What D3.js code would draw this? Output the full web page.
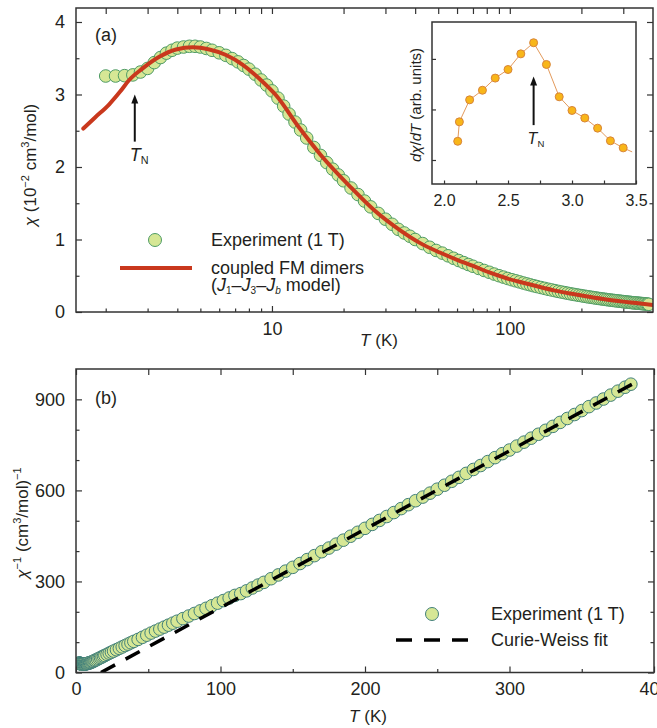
<!DOCTYPE html>
<html lang="en">
<head>
<meta charset="UTF-8">
<title>Susceptibility of coupled FM dimers</title>
<script src="https://d3js.org/d3.v7.min.js"></script>
<style>
  body { margin: 0; background: #fff; }
  svg text { font-family: "Liberation Sans", Arial, sans-serif; fill: #231f20; }
  .tick text { font-size: 18px; }
  .inset .tick text { font-size: 16px; }
  .domain { display: none; }
  .tick line { stroke: #333; stroke-width: 1.2; }
</style>
</head>
<body>
<div id="chart"></div>
<script>
// measured temperatures (K), shared by both panels
const tempK = [
  2.0, 2.2, 2.4, 2.6, 2.8, 3.0, 3.2, 3.4, 3.6, 3.8,
  4.0, 4.25, 4.5, 4.75, 5.0, 5.3, 5.6, 6.0, 6.4, 6.8,
  7.2, 7.6, 8.0, 8.5, 9.0, 9.5, 10, 10.6, 11.2, 11.8,
  12.5, 13.2, 14, 15, 16, 17, 18, 19, 20, 21.5,
  23, 24.5, 26, 28, 30, 32, 34, 36, 38, 40,
  43, 46, 49, 52, 55, 58, 61, 64, 67, 70,
  74, 78, 82, 86, 90, 94, 98, 102, 106, 110,
  114, 118, 122, 126, 130, 135, 140, 145, 150, 155,
  160, 165, 170, 175, 180, 185, 190, 195, 200, 205,
  210, 215, 220, 225, 230, 235, 240, 245, 250, 255,
  260, 265, 270, 275, 280, 285, 290, 295, 300, 305,
  310, 315, 320, 325, 330, 335, 340, 345, 350, 355,
  360, 365, 370, 375, 380, 384
];
// chi (1e-2 cm3/mol), panel (a)
const chiExp = [
  3.255, 3.255, 3.26, 3.27, 3.31, 3.36, 3.44, 3.51, 3.57, 3.61,
  3.64, 3.655, 3.665, 3.665, 3.655, 3.635, 3.61, 3.575, 3.54, 3.495,
  3.45, 3.40, 3.35, 3.28, 3.20, 3.13, 3.05, 2.95, 2.84, 2.73,
  2.62, 2.51, 2.40, 2.27, 2.16, 2.06, 1.97, 1.89, 1.81, 1.71,
  1.62, 1.53, 1.45, 1.36, 1.28, 1.21, 1.14, 1.09, 1.045, 1.00,
  0.944, 0.893, 0.849, 0.812, 0.775, 0.741, 0.71, 0.681, 0.655, 0.631,
  0.601, 0.573, 0.548, 0.523, 0.501, 0.481, 0.462, 0.445, 0.43, 0.415,
  0.40, 0.387, 0.374, 0.362, 0.351, 0.338, 0.326, 0.314, 0.304, 0.294,
  0.284, 0.275, 0.267, 0.259, 0.251, 0.244, 0.237, 0.231, 0.225, 0.219,
  0.213, 0.208, 0.203, 0.198, 0.193, 0.188, 0.184, 0.180, 0.176, 0.172,
  0.168, 0.165, 0.161, 0.158, 0.155, 0.152, 0.149, 0.146, 0.143, 0.140,
  0.138, 0.135, 0.133, 0.130, 0.128, 0.126, 0.124, 0.122, 0.120, 0.118,
  0.116, 0.114, 0.112, 0.110, 0.108, 0.106
];
// 1/chi ((cm3/mol)^-1), panel (b)
const chiInvExp = [
  30.7, 30.7, 30.7, 30.6, 30.2, 29.8, 29.1, 28.5, 28.0, 27.7,
  27.5, 27.4, 27.3, 27.3, 27.4, 27.5, 27.7, 28.0, 28.3, 28.6,
  29.0, 29.4, 29.9, 30.5, 31.2, 32.0, 32.8, 33.9, 35.2, 36.6,
  38.2, 39.9, 41.8, 44.2, 46.6, 49.0, 51.4, 53.8, 56.2, 59.8,
  63.5, 67.0, 70.5, 75.0, 79.6, 84.2, 88.8, 93.4, 98.0, 102.6,
  109, 116, 123, 130, 136.5, 143, 149.5, 156, 162.5, 169,
  177.5, 186, 194.5, 203, 211.5, 220, 228.5, 237, 245.5, 254,
  260, 269, 278.5, 288, 297, 309, 321.5, 334, 346.5, 359,
  372, 385, 398, 410, 423, 436, 449, 462, 475, 488,
  501, 514, 527, 540, 553, 566, 578, 591, 604, 617,
  630, 643, 656, 669, 682, 695, 708, 721, 733, 746,
  759, 772, 785, 798, 811, 824, 837, 850, 863, 876,
  888, 901, 914, 927, 940, 950
];
// coupled FM dimers model (J1-J3-Jb)
const modelT = [1.61, 1.8, 2.07, 2.3, 2.51, 2.86, 3.36, 3.95, 4.65, 5.45, 6.41, 7.54, 8.84, 10.4, 13.1, 16, 21.3, 27, 34.5, 42, 50.8, 60, 70.2, 82, 96.9, 115, 133.6, 155, 184.5, 215, 254.5, 300, 340, 400];
const modelChi = [2.53, 2.68, 2.865, 3.04, 3.2, 3.36, 3.52, 3.62, 3.65, 3.62, 3.545, 3.41, 3.22, 2.99, 2.53, 2.17, 1.73, 1.40, 1.13, 0.95, 0.82, 0.72, 0.635, 0.545, 0.465, 0.40, 0.345, 0.295, 0.248, 0.21, 0.172, 0.143, 0.124, 0.098];
// Curie-Weiss fit end points
const cwT = [17.3, 390];
const cwChiInv = [0, 963];
// inset: dchi/dT (arb. units); last entry is line only
const insetT = [2.107, 2.12, 2.2, 2.3, 2.4, 2.5, 2.6, 2.7, 2.8, 2.9, 3.0, 3.1, 3.2, 3.3, 3.4, 3.47];
const insetDchi = [1.37, 1.755, 2.19, 2.38, 2.62, 2.79, 3.10, 3.32, 2.89, 2.25, 1.98, 1.83, 1.63, 1.38, 1.24, 1.16];

// ticks
const aXTicks = [10, 100];
const aXMinor = [2, 3, 4, 5, 6, 7, 8, 9, 20, 30, 40, 50, 60, 70, 80, 90, 200, 300];
const aYTicks = [0, 1, 2, 3, 4];
const aYMinor = [0.5, 1.5, 2.5, 3.5];
const bXTicks = [0, 100, 200, 300, 400];
const bXMinor = [50, 150, 250, 350];
const bYTicks = [0, 300, 600, 900];
const bYMinor = [100, 200, 400, 500, 700, 800];
const iXTicks = [2.0, 2.5, 3.0, 3.5];
const iXMinor = [2.25, 2.75, 3.25];
const iYTicks = [1, 2, 3];

const svg = d3.select("#chart").append("svg")
  .attr("width", 657)
  .attr("height", 728);

const expA = tempK.map((t, i) => ({ t, v: chiExp[i] }));
const expB = tempK.map((t, i) => ({ t, v: chiInvExp[i] }));
const model = modelT.map((t, i) => ({ t, v: modelChi[i] }));

function frame(g, x0, y0, x1, y1) {
  g.append("rect")
    .attr("x", x0).attr("y", y0)
    .attr("width", x1 - x0).attr("height", y1 - y0)
    .attr("fill", "none")
    .attr("stroke", "#333")
    .attr("stroke-width", 1.5);
}

function allAxes(g, x, y, box, xt, xm, yt, ym, fmtX, fmtY) {
  const [x0, y0, x1, y1] = box;
  g.append("g").attr("transform", `translate(0,${y1})`)
    .call(d3.axisBottom(x).tickValues(xt).tickFormat(fmtX).tickSize(-6).tickPadding(10));
  g.append("g").attr("transform", `translate(0,${y1})`)
    .call(d3.axisBottom(x).tickValues(xm).tickFormat("").tickSize(-3.5));
  g.append("g").attr("transform", `translate(0,${y0})`)
    .call(d3.axisTop(x).tickValues(xt.concat(xm)).tickFormat("").tickSize(-6));
  g.append("g").attr("transform", `translate(${x0},0)`)
    .call(d3.axisLeft(y).tickValues(yt).tickFormat(fmtY).tickSize(-6).tickPadding(11));
  g.append("g").attr("transform", `translate(${x0},0)`)
    .call(d3.axisLeft(y).tickValues(ym).tickFormat("").tickSize(-3.5));
  g.append("g").attr("transform", `translate(${x1},0)`)
    .call(d3.axisRight(y).tickValues(yt).tickFormat("").tickSize(-6));
  g.append("g").attr("transform", `translate(${x1},0)`)
    .call(d3.axisRight(y).tickValues(ym).tickFormat("").tickSize(-3.5));
  frame(g, x0, y0, x1, y1);
}

function arrow(g, x, yTail, yTip) {
  g.append("line")
    .attr("x1", x).attr("x2", x)
    .attr("y1", yTail).attr("y2", yTip + 6)
    .attr("stroke", "#111").attr("stroke-width", 2);
  g.append("path")
    .attr("d", `M${x},${yTip} L${x - 3.5},${yTip + 9} L${x + 3.5},${yTip + 9} Z`)
    .attr("fill", "#111");
}

function tnLabel(g, x, y, size) {
  const t = g.append("text").attr("x", x).attr("y", y).attr("font-size", size);
  t.append("tspan").attr("font-style", "italic").text("T");
  t.append("tspan").attr("font-size", size * 0.6).attr("dy", 3).text("N");
}

// ---------- panel (a) ----------
const boxA = [76, 8, 653, 312];
const xA = d3.scaleLog().domain([1.5, 400]).range([76, 653]);
const yA = d3.scaleLinear().domain([0, 4.193]).range([312, 8]);
const gA = svg.append("g");

svg.append("clipPath").attr("id", "clipA")
  .append("rect").attr("x", 76).attr("y", 8).attr("width", 577).attr("height", 304);
svg.append("clipPath").attr("id", "clipB")
  .append("rect").attr("x", 76).attr("y", 369).attr("width", 578).attr("height", 303.5);

const dataA = gA.append("g").attr("clip-path", "url(#clipA)");
dataA.selectAll("circle")
  .data(expA)
  .enter()
  .append("circle")
  .attr("cx", d => xA(d.t))
  .attr("cy", d => yA(d.v))
  .attr("r", 6.3)
  .attr("fill", "#d6e795")
  .attr("stroke", "#4f9c66")
  .attr("stroke-width", 1);

dataA.append("path")
  .datum(model)
  .attr("fill", "none")
  .attr("stroke", "#c9381d")
  .attr("stroke-width", 4)
  .attr("stroke-linecap", "round")
  .attr("d", d3.line().x(d => xA(d.t)).y(d => yA(d.v)).curve(d3.curveMonotoneX));

allAxes(gA, xA, yA, boxA, aXTicks, aXMinor, aYTicks, aYMinor, d3.format("d"), d3.format("d"));

gA.append("text").attr("x", 95).attr("y", 41).attr("font-size", 18).text("(a)");

arrow(gA, xA(2.65), yA(2.35), yA(3.0));
tnLabel(gA, xA(2.65) - 5, 161, 18);

// y label (a)
const ylA = gA.append("text")
  .attr("transform", "translate(36,165) rotate(-90)")
  .attr("text-anchor", "middle")
  .attr("font-size", 17);
ylA.append("tspan").attr("font-style", "italic").text("χ");
ylA.append("tspan").text(" (10");
ylA.append("tspan").attr("font-size", 11).attr("dy", -7).text("−2");
ylA.append("tspan").attr("dy", 7).text(" cm");
ylA.append("tspan").attr("font-size", 11).attr("dy", -7).text("3");
ylA.append("tspan").attr("dy", 7).text("/mol)");

const xlA = gA.append("text").attr("x", 379).attr("y", 346)
  .attr("text-anchor", "middle").attr("font-size", 17);
xlA.append("tspan").attr("font-style", "italic").text("T");
xlA.append("tspan").text(" (K)");

// legend (a)
gA.append("circle").attr("cx", 155).attr("cy", 240).attr("r", 6.5)
  .attr("fill", "#d6e795").attr("stroke", "#4f9c66");
gA.append("text").attr("x", 211).attr("y", 246).attr("font-size", 18).text("Experiment (1 T)");
gA.append("line").attr("x1", 120).attr("x2", 192).attr("y1", 268).attr("y2", 268)
  .attr("stroke", "#c9381d").attr("stroke-width", 4);
gA.append("text").attr("x", 211).attr("y", 274).attr("font-size", 18).text("coupled FM dimers");
const lgA = gA.append("text").attr("x", 211).attr("y", 291).attr("font-size", 18);
lgA.append("tspan").text("(");
lgA.append("tspan").attr("font-style", "italic").text("J");
lgA.append("tspan").attr("font-size", 10).attr("dy", 3).text("1");
lgA.append("tspan").attr("dy", -3).text("–");
lgA.append("tspan").attr("font-style", "italic").text("J");
lgA.append("tspan").attr("font-size", 10).attr("dy", 3).text("3");
lgA.append("tspan").attr("dy", -3).text("–");
lgA.append("tspan").attr("font-style", "italic").text("J");
lgA.append("tspan").attr("font-size", 10).attr("font-style", "italic").attr("dy", 3).text("b");
lgA.append("tspan").attr("dy", -3).text(" model)");

// ---------- inset ----------
const boxI = [432, 22, 636, 184];
const xI = d3.scaleLinear().domain([1.906, 3.5]).range([432, 636]);
const yI = d3.scaleLinear().domain([0.525, 3.73]).range([184, 22]);
const gI = svg.append("g").attr("class", "inset");
gI.append("rect").attr("x", 432).attr("y", 22).attr("width", 204).attr("height", 162).attr("fill", "#fff");

gI.append("g").attr("transform", "translate(0,184)")
  .call(d3.axisBottom(xI).tickValues(iXTicks).tickFormat(d3.format(".1f")).tickSize(-3.5).tickPadding(11));
gI.append("g").attr("transform", "translate(0,184)")
  .call(d3.axisBottom(xI).tickValues(iXMinor).tickFormat("").tickSize(-3.5));
gI.append("g").attr("transform", "translate(432,0)")
  .call(d3.axisLeft(yI).tickValues(iYTicks).tickFormat("").tickSize(-4));
frame(gI, ...boxI);

const ins = insetT.map((t, i) => ({ t, v: insetDchi[i] }));
gI.append("path")
  .datum(ins)
  .attr("fill", "none")
  .attr("stroke", "#e39a5c")
  .attr("stroke-width", 1)
  .attr("d", d3.line().x(d => xI(d.t)).y(d => yI(d.v)));
gI.selectAll(".pt")
  .data(ins.slice(0, ins.length - 1))
  .enter()
  .append("circle")
  .attr("class", "pt")
  .attr("cx", d => xI(d.t))
  .attr("cy", d => yI(d.v))
  .attr("r", 4)
  .attr("fill", "#f8b619")
  .attr("stroke", "#d8843a")
  .attr("stroke-width", 1);

arrow(gI, xI(2.7), yI(1.69), yI(2.65));
tnLabel(gI, xI(2.7) - 6, 144, 16);

const ylI = gI.append("text")
  .attr("transform", "translate(421,105) rotate(-90)")
  .attr("text-anchor", "middle")
  .attr("font-size", 15);
ylI.append("tspan").attr("font-style", "italic").text("dχ");
ylI.append("tspan").text("/");
ylI.append("tspan").attr("font-style", "italic").text("dT");
ylI.append("tspan").text(" (arb. units)");

// ---------- panel (b) ----------
const boxB = [76, 369, 654, 672.5];
const xB = d3.scaleLinear().domain([0, 400]).range([76, 654]);
const yB = d3.scaleLinear().domain([0, 1000]).range([672.5, 369]);
const gB = svg.append("g");

const dataB = gB.append("g").attr("clip-path", "url(#clipB)");
dataB.selectAll("circle")
  .data(expB)
  .enter()
  .append("circle")
  .attr("cx", d => xB(d.t))
  .attr("cy", d => yB(d.v))
  .attr("r", 6.3)
  .attr("fill", "#d6e795")
  .attr("stroke", "#42807a")
  .attr("stroke-width", 1);

dataB.append("line")
  .attr("x1", xB(cwT[0])).attr("y1", yB(cwChiInv[0]))
  .attr("x2", xB(cwT[1])).attr("y2", yB(cwChiInv[1]))
  .attr("stroke", "#000")
  .attr("stroke-width", 3.5)
  .attr("stroke-dasharray", "16,12");

allAxes(gB, xB, yB, boxB, bXTicks, bXMinor, bYTicks, bYMinor, d3.format("d"), d3.format("d"));

gB.append("text").attr("x", 95).attr("y", 404).attr("font-size", 18).text("(b)");

const ylB = gB.append("text")
  .attr("transform", "translate(28,523) rotate(-90)")
  .attr("text-anchor", "middle")
  .attr("font-size", 17);
ylB.append("tspan").attr("font-style", "italic").text("χ");
ylB.append("tspan").attr("font-size", 11).attr("dy", -7).text("−1");
ylB.append("tspan").attr("dy", 7).text(" (cm");
ylB.append("tspan").attr("font-size", 11).attr("dy", -7).text("3");
ylB.append("tspan").attr("dy", 7).text("/mol)");
ylB.append("tspan").attr("font-size", 11).attr("dy", -7).text("−1");

const xlB = gB.append("text").attr("x", 368).attr("y", 722)
  .attr("text-anchor", "middle").attr("font-size", 17);
xlB.append("tspan").attr("font-style", "italic").text("T");
xlB.append("tspan").text(" (K)");

// legend (b)
gB.append("circle").attr("cx", 432).attr("cy", 614).attr("r", 6.5)
  .attr("fill", "#d6e795").attr("stroke", "#42807a");
gB.append("text").attr("x", 491).attr("y", 620).attr("font-size", 18).text("Experiment (1 T)");
gB.append("line").attr("x1", 396).attr("x2", 469).attr("y1", 640).attr("y2", 640)
  .attr("stroke", "#000").attr("stroke-width", 3.5).attr("stroke-dasharray", "16,12");
gB.append("text").attr("x", 491).attr("y", 646).attr("font-size", 18).text("Curie-Weiss fit");
</script>
</body>
</html>
